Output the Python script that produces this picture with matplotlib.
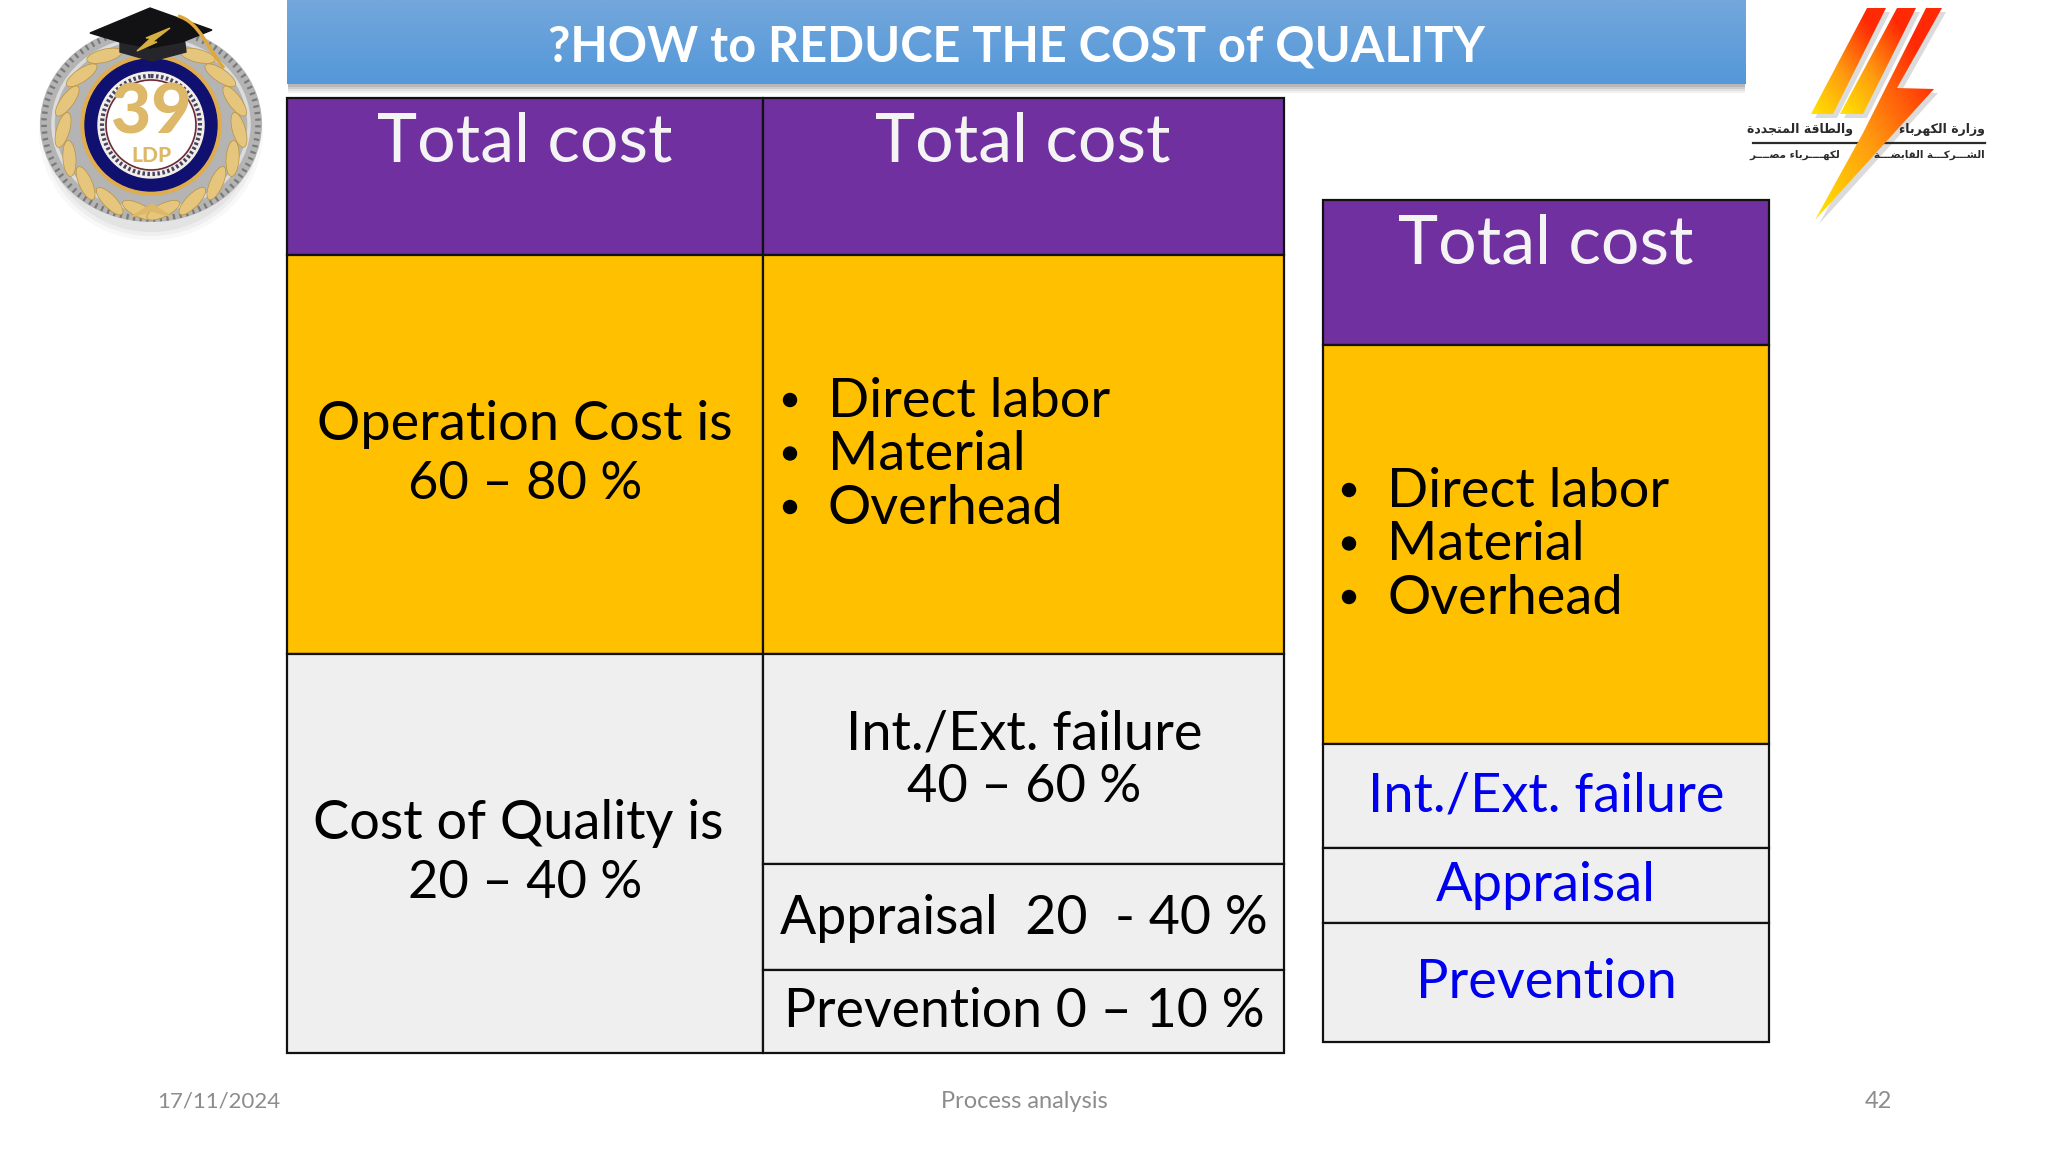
"""
Slide: how to reduce the cost of quality
Three stacked cost columns, drawn in pixel coordinates of the 2048x1152 slide
"""

import numpy as np
import matplotlib as mpl
import matplotlib.pyplot as plt
from matplotlib.patches import Rectangle, Circle, Ellipse, Polygon, PathPatch
from matplotlib.path import Path
from matplotlib.transforms import Affine2D

mpl.rcParams['font.family'] = ['Lato', 'DejaVu Sans']

# texts
title = '?HOW to REDUCE THE COST of QUALITY'
header = 'Total cost'
operation_label = ['Operation Cost is', '60 – 80 %']
quality_label = ['Cost of Quality is', '20 – 40 %']
bullets = ['Direct labor', 'Material', 'Overhead']
split_labels = [['Int./Ext. failure', '40 – 60 %'], ['Appraisal  20  - 40 %'], ['Prevention 0 – 10 %']]
right_labels = ['Int./Ext. failure', 'Appraisal', 'Prevention']
footer = ['17/11/2024', 'Process analysis', '42']
logo_top = ['والطاقة المتجددة', 'وزارة الكهرباء']
logo_bottom = ['لكهــــرباء مصــــر', 'الشـــركـــة القابضـــة']

# layout, in slide pixels
left_x = [287, 763, 1284]
left_y = [98, 255, 654, 1053]
split_y = [654, 864, 970, 1053]
right_x = [1323, 1769]
right_y = [200, 345, 744, 848, 923, 1042]

PURPLE = '#7030a0'
AMBER = '#ffc000'
LIGHT = '#efefef'
BLUE = '#0000f0'
GOLD = '#dcb868'

# presentation forms, since matplotlib does not shape Arabic itself
FOUR_FORMS = {'ب': 0xFE8F, 'ت': 0xFE95, 'ج': 0xFE9D, 'ش': 0xFEB5, 'ص': 0xFEB9, 'ض': 0xFEBD,
              'ط': 0xFEC1, 'ق': 0xFED5, 'ك': 0xFED9, 'ل': 0xFEDD, 'م': 0xFEE1, 'ه': 0xFEE9}
TWO_FORMS = {'ا': 0xFE8D, 'ة': 0xFE93, 'د': 0xFEA9, 'ر': 0xFEAD, 'ز': 0xFEAF, 'و': 0xFEED}


def shape_arabic(text):
    out = []
    for i, ch in enumerate(text):
        prev = text[i - 1] if i > 0 else ' '
        nxt = text[i + 1] if i < len(text) - 1 else ' '
        after = prev in FOUR_FORMS or prev == 'ـ'
        before = nxt in FOUR_FORMS or nxt in TWO_FORMS or nxt == 'ـ'
        if ch in FOUR_FORMS:
            base = FOUR_FORMS[ch]
            if after and before:
                out.append(chr(base + 3))
            elif before:
                out.append(chr(base + 2))
            elif after:
                out.append(chr(base + 1))
            else:
                out.append(chr(base))
        elif ch in TWO_FORMS:
            out.append(chr(TWO_FORMS[ch] + (1 if after else 0)))
        else:
            out.append(ch)
    return ''.join(reversed(out))


def cell(ax, x0, x1, y0, y1, color):
    ax.add_patch(Rectangle((x0, y0), x1 - x0, y1 - y0, facecolor=color,
                           edgecolor='#111111', linewidth=1.6, zorder=3))


def label(ax, x, y, text, size=39, color='black', ha='center'):
    ax.text(x, y, text, fontsize=size, color=color, ha=ha, va='center_baseline', zorder=5)


def bullet_list(ax, x_dot, x_text, y_start):
    for i, item in enumerate(bullets):
        y = y_start + i * 53.5
        ax.add_patch(Circle((x_dot, y + 3), 6.5, color='black', zorder=5))
        label(ax, x_text, y, item, ha='left')


def draw_title(ax):
    for off, alpha in zip([9, 7, 5, 3], [0.08, 0.1, 0.14, 0.18]):
        ax.add_patch(Rectangle((left_x[0] + 1, 0), 1459 - 2, 84 + off, color='#555555', alpha=alpha, lw=0, zorder=1))
    grad = np.linspace(0, 1, 64)[:, None, None]
    top = np.array(mpl.colors.to_rgb('#74a7dc'))
    bottom = np.array(mpl.colors.to_rgb('#5398d9'))
    ax.imshow(top + (bottom - top) * grad, extent=(287, 1746, 84, 0), aspect='auto', zorder=2)
    ax.text(1016, 47, title, fontsize=35, color='white', ha='center', va='center',
            fontweight='bold', zorder=5)


def draw_emblem(ax):
    cx, cy = 151, 124
    # soft shadow below
    for r, a in zip([112, 108, 104], [0.05, 0.07, 0.09]):
        ax.add_patch(Ellipse((cx, cy + 8), 2 * r, 2 * r - 8, color='#777777', alpha=a, lw=0, zorder=2))
    ax.add_patch(Ellipse((cx, cy), 222, 196, color='#b4b4b4', lw=0, zorder=3))
    ax.add_patch(Ellipse((cx, cy), 214, 190, fill=False, ec='#7a7a7a', lw=4, ls=(0, (0.4, 0.8)), zorder=3))
    ax.add_patch(Ellipse((cx, cy), 196, 172, fill=False, ec='#dcdcdc', lw=2.5, zorder=3))

    # laurel leaves, tangent to the ring on both sides
    for deg in range(98, 240, 20):
        for phi in (deg, 180 - deg):
            a = np.deg2rad(phi)
            tilt = 18 if phi == deg else -18
            ax.add_patch(Ellipse((cx + 88 * np.cos(a), cy + 3 + 84 * np.sin(a)), 36, 13, angle=phi + 90 + tilt,
                                 facecolor='#e6c67c', edgecolor='#b8923f', lw=0.5, zorder=4))
    ax.add_patch(Polygon([(131, 217), (152, 204), (172, 217), (152, 211)], color=GOLD, zorder=4))

    ax.add_patch(Circle((cx, cy + 1), 70, color='#e0ad4e', zorder=5))
    ax.add_patch(Circle((cx, cy + 1), 66, color='#101070', zorder=5))
    ax.add_patch(Circle((cx, cy + 1), 53, color='#f3eee6', zorder=5))
    ax.add_patch(Circle((cx, cy + 1), 49, fill=False, ec='#444466', lw=3, ls=(0, (0.6, 0.6)), zorder=6))
    ax.add_patch(Circle((cx, cy + 1), 45, fill=False, ec='#6a2a3a', lw=1.2, zorder=6))
    ax.add_patch(Circle((cx, cy + 1), 43, color='white', zorder=6))
    ax.text(cx, 114, '39', fontsize=50, color=GOLD, ha='center', va='center', fontweight='black', zorder=7)
    ax.text(cx, 156, 'LDP', fontsize=15, color=GOLD, ha='center', va='center', fontweight='black', zorder=7)

    # graduation cap
    ax.add_patch(Polygon([(120, 36), (184, 36), (186, 52), (152, 61), (120, 52)], color='#26262a', zorder=8))
    ax.add_patch(Polygon([(90, 33), (150, 8), (212, 30), (182, 42), (150, 48), (120, 42)], color='#121214', zorder=8))
    ax.add_patch(Polygon([(170, 28), (152, 42), (157, 42), (137, 51), (151, 38), (146, 38)], color='#d8b040', zorder=9))
    tassel = Path([(178, 16), (200, 22), (208, 50), (224, 68)], [Path.MOVETO, Path.CURVE4, Path.CURVE4, Path.CURVE4])
    ax.add_patch(PathPatch(tassel, fill=False, ec='#dfa93a', lw=2.5, zorder=9))


def gradient_poly(ax, pts, zorder=6):
    # yellow at the lower left running to red at the upper right
    ny, nx = 200, 200
    xs = [p[0] for p in pts]
    ys = [p[1] for p in pts]
    u, v = np.meshgrid(np.linspace(0, 1, nx), np.linspace(1, 0, ny))
    t = np.clip(0.62 * u + 0.62 * v, 0, 1)[..., None]
    stops = np.array([mpl.colors.to_rgb(c) for c in ['#ffe600', '#ff9a10', '#ff2a05']])
    rgb = np.where(t < 0.5, stops[0] + (stops[1] - stops[0]) * t * 2, stops[1] + (stops[2] - stops[1]) * (t - 0.5) * 2)
    im = ax.imshow(rgb, extent=(min(xs), max(xs), max(ys), min(ys)), aspect='auto', zorder=zorder)
    clip = Polygon(pts, transform=ax.transData, fc='none', ec='none')
    ax.add_patch(clip)
    im.set_clip_path(clip)


def draw_bolt(ax):
    stripe1 = [(1867, 8), (1886, 8), (1833, 114), (1811, 114)]
    stripe2 = [(1897, 8), (1916, 8), (1863, 114), (1840, 114)]
    bolt = [(1926, 8), (1942, 8), (1897, 88), (1934, 89), (1815, 220), (1863, 133)]
    for pts in (stripe1, stripe2, bolt):
        shadow = Polygon(pts, color='#999999', alpha=0.35, lw=0, zorder=2,
                         transform=Affine2D().translate(4, 4) + ax.transData)
        ax.add_patch(shadow)
        gradient_poly(ax, pts)

    dark = '#2b2b2b'
    ax.plot([1753, 1985], [143, 143], color=dark, lw=1.6, zorder=3)
    ax.text(1853, 130, shape_arabic(logo_top[0]), family='DejaVu Sans', fontsize=9, fontweight='bold',
            color=dark, ha='right', va='center', zorder=4)
    ax.text(1985, 130, shape_arabic(logo_top[1]), family='DejaVu Sans', fontsize=9, fontweight='bold',
            color=dark, ha='right', va='center', zorder=4)
    ax.text(1840, 155, shape_arabic(logo_bottom[0]), family='DejaVu Sans', fontsize=7.5, fontweight='bold',
            color=dark, ha='right', va='center', zorder=4)
    ax.text(1985, 155, shape_arabic(logo_bottom[1]), family='DejaVu Sans', fontsize=7.5, fontweight='bold',
            color=dark, ha='right', va='center', zorder=4)


fig = plt.figure(figsize=(20.48, 11.52), dpi=100)
ax = fig.add_axes([0, 0, 1, 1])
ax.set_xlim(0, 2048)
ax.set_ylim(1152, 0)
ax.axis('off')

draw_title(ax)
draw_emblem(ax)
draw_bolt(ax)

# left table, first column
cell(ax, left_x[0], left_x[1], left_y[0], left_y[1], PURPLE)
cell(ax, left_x[0], left_x[1], left_y[1], left_y[2], AMBER)
cell(ax, left_x[0], left_x[1], left_y[2], left_y[3], LIGHT)
# left table, second column
cell(ax, left_x[1], left_x[2], left_y[0], left_y[1], PURPLE)
cell(ax, left_x[1], left_x[2], left_y[1], left_y[2], AMBER)
for i in range(3):
    cell(ax, left_x[1], left_x[2], split_y[i], split_y[i + 1], LIGHT)
# right table
cell(ax, right_x[0], right_x[1], right_y[0], right_y[1], PURPLE)
cell(ax, right_x[0], right_x[1], right_y[1], right_y[2], AMBER)
for i in range(3):
    cell(ax, right_x[0], right_x[1], right_y[2 + i], right_y[3 + i], LIGHT)

label(ax, 525, 137, header, size=49, color='#f4f4f4')
label(ax, 1023, 137, header, size=49, color='#f4f4f4')
label(ax, 1546, 239, header, size=49, color='#f4f4f4')

label(ax, 525, 420, operation_label[0])
label(ax, 525, 480, operation_label[1], size=37.7)
label(ax, 518, 819, quality_label[0])
label(ax, 525, 879, quality_label[1], size=37.7)

bullet_list(ax, 790, 828, 397)
bullet_list(ax, 1349, 1387, 487)

label(ax, 1024, 729, split_labels[0][0])
label(ax, 1024, 783, split_labels[0][1], size=37.7)
label(ax, 1024, 914, split_labels[1][0], size=38.6)
label(ax, 1024, 1007, split_labels[2][0], size=38.6)

for y, text in zip([791, 881, 978], right_labels):
    label(ax, 1546, y, text, color=BLUE)

ax.text(157, 1102, footer[0], fontsize=16, color='#8c8c8c', ha='left', va='center')
ax.text(1024, 1102, footer[1], fontsize=17, color='#8c8c8c', ha='center', va='center')
ax.text(1878, 1102, footer[2], fontsize=17, color='#8c8c8c', ha='center', va='center')

ax.set_xlim(0, 2048)
ax.set_ylim(1152, 0)
fig.savefig('out.png', dpi=100, facecolor='white')
plt.close(fig)
